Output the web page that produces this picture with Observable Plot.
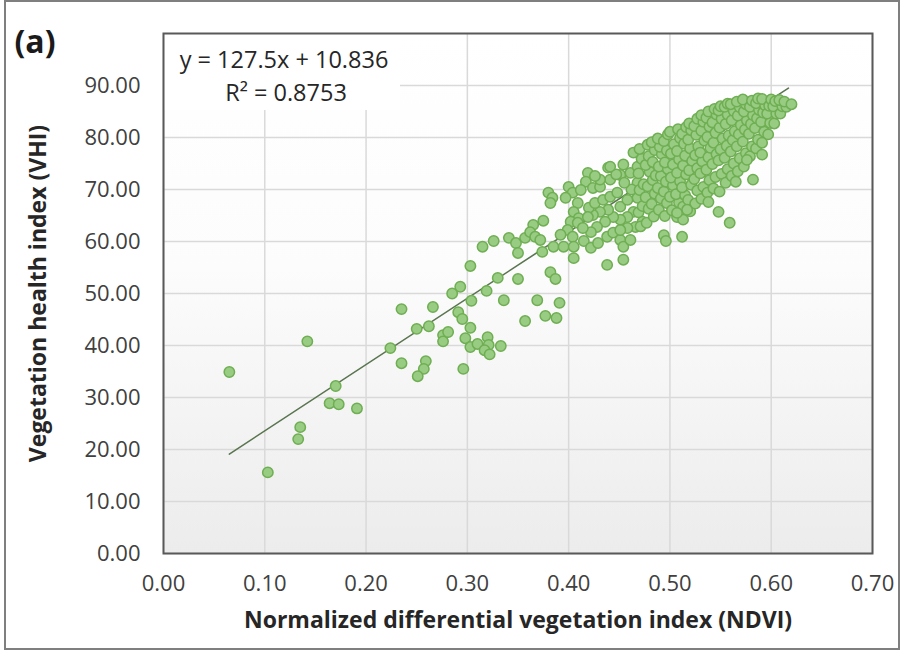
<!DOCTYPE html>
<html>
<head>
<meta charset="utf-8">
<script src="https://cdn.jsdelivr.net/npm/d3@7"></script>
<script src="https://cdn.jsdelivr.net/npm/@observablehq/plot@0.6"></script>
<style>
  body { margin: 0; background: #fff; }
  #wrap { position: relative; width: 900px; height: 650px; overflow: hidden; }
  #border { position: absolute; left: 4px; top: 0; width: 892px; height: 646px; border: 2px solid #7f7f7f; pointer-events: none; }
</style>
</head>
<body>
<div id="wrap"><div id="border"></div></div>
<script>
// Axis ticks and titles
const xTicks = [0, 0.1, 0.2, 0.3, 0.4, 0.5, 0.6, 0.7];
const yTicks = [0, 10, 20, 30, 40, 50, 60, 70, 80, 90];
const xTitle = "Normalized differential vegetation index (NDVI)";
const yTitle = "Vegetation health index (VHI)";
const panelLabel = "(a)";

// Linear fit reported on the chart
const slope = 127.5;
const intercept = 10.836;
const rSquared = "0.8753";
const fitRange = [0.065, 0.617];

// Observations [NDVI, VHI]: sparse low-NDVI tail
const lowTail = [
  [0.065, 34.9], [0.103, 15.6], [0.142, 40.8], [0.135, 24.3], [0.133, 22.0],
  [0.170, 32.2], [0.164, 28.9], [0.173, 28.7], [0.191, 27.9], [0.224, 39.5],
  [0.235, 47.0], [0.235, 36.6], [0.259, 37.0], [0.257, 35.5], [0.251, 34.1],
  [0.250, 43.2], [0.262, 43.7], [0.266, 47.4], [0.276, 42.0], [0.276, 40.8],
  [0.281, 42.6], [0.285, 50.0], [0.293, 51.3], [0.296, 35.5], [0.291, 46.4],
  [0.295, 45.1], [0.303, 43.4], [0.298, 41.4], [0.303, 39.7], [0.310, 40.3],
  [0.320, 41.6], [0.321, 40.1], [0.317, 39.1], [0.322, 38.3], [0.333, 39.9],
  [0.303, 55.3], [0.304, 48.6], [0.319, 50.5], [0.336, 48.7], [0.330, 53.0],
  [0.315, 59.0], [0.326, 60.1], [0.341, 60.7], [0.348, 59.7], [0.357, 60.7],
  [0.350, 57.8], [0.350, 52.8], [0.357, 44.7], [0.377, 45.7], [0.388, 45.3],
  [0.369, 48.7], [0.391, 48.2], [0.382, 54.1], [0.387, 52.8], [0.374, 58.0],
  [0.385, 59.0], [0.365, 63.2], [0.375, 64.0], [0.362, 61.8], [0.367, 60.9],
  [0.372, 60.3], [0.380, 69.4], [0.384, 68.4], [0.382, 67.4]
];

// Observations [NDVI, VHI]: transition zone 0.39–0.47
const midSpread = [
  [0.400, 70.5], [0.404, 69.4], [0.397, 68.4], [0.409, 67.4], [0.405, 65.7],
  [0.410, 64.5], [0.402, 63.8], [0.409, 63.6], [0.399, 62.2], [0.392, 61.3],
  [0.404, 60.9], [0.395, 59.0], [0.405, 59.0], [0.405, 56.8], [0.415, 60.1],
  [0.422, 58.8], [0.429, 59.7], [0.438, 60.9], [0.444, 61.7], [0.451, 60.3],
  [0.454, 59.0], [0.461, 60.3], [0.473, 63.8], [0.466, 62.8], [0.458, 62.6],
  [0.451, 62.2], [0.438, 55.5], [0.454, 56.5], [0.494, 61.2], [0.496, 60.1],
  [0.512, 60.9], [0.419, 73.2], [0.417, 71.5], [0.412, 69.9], [0.424, 70.3],
  [0.431, 70.5], [0.439, 74.2], [0.441, 71.9], [0.451, 72.8], [0.454, 74.8],
  [0.464, 77.1], [0.461, 73.2], [0.468, 74.4], [0.468, 71.3], [0.468, 68.4],
  [0.464, 65.7], [0.458, 64.7], [0.451, 64.2], [0.444, 64.7], [0.439, 66.1],
  [0.431, 65.7], [0.424, 65.1], [0.436, 63.8], [0.428, 62.8], [0.422, 61.8],
  [0.414, 62.6], [0.420, 66.5], [0.419, 64.7], [0.426, 67.4], [0.434, 68.0],
  [0.441, 68.6], [0.448, 69.4], [0.451, 66.7], [0.458, 68.0], [0.462, 70.0],
  [0.455, 71.3], [0.447, 72.9], [0.441, 74.4], [0.431, 71.9], [0.426, 72.6]
];

// Observations [NDVI, VHI]: dense high-NDVI core
const denseCore = [
  [0.471, 62.9], [0.469, 65.6], [0.473, 66.8], [0.470, 69.9], [0.474, 71.0], [0.469, 73.1], [0.472, 75.9], [0.470, 77.8],
  [0.477, 63.6], [0.479, 66.3], [0.476, 68.5], [0.478, 70.6], [0.480, 73.4], [0.476, 74.7], [0.479, 76.4], [0.478, 78.6],
  [0.484, 64.8], [0.482, 67.2], [0.485, 69.2], [0.483, 71.8], [0.486, 72.7], [0.483, 75.3], [0.485, 77.6], [0.482, 79.1],
  [0.489, 66.1], [0.491, 68.3], [0.488, 70.3], [0.491, 72.6], [0.489, 74.4], [0.492, 76.8], [0.490, 78.2], [0.488, 79.8],
  [0.495, 64.9], [0.497, 67.4], [0.494, 69.6], [0.496, 71.5], [0.498, 73.9], [0.495, 75.2], [0.497, 77.5], [0.494, 79.3], [0.498, 80.6],
  [0.502, 66.0], [0.500, 68.6], [0.503, 70.8], [0.501, 72.3], [0.503, 74.8], [0.501, 76.9], [0.504, 78.7], [0.500, 81.1],
  [0.507, 64.7], [0.509, 67.5], [0.506, 69.1], [0.510, 71.6], [0.507, 73.2], [0.509, 75.8], [0.507, 77.4], [0.510, 79.9], [0.508, 81.6],
  [0.513, 66.7], [0.515, 68.9], [0.512, 70.4], [0.516, 72.9], [0.513, 74.6], [0.515, 76.5], [0.514, 78.8], [0.512, 80.7], [0.516, 82.0],
  [0.520, 65.8], [0.518, 68.0], [0.521, 70.9], [0.519, 73.7], [0.522, 75.5], [0.520, 77.9], [0.518, 79.6], [0.521, 81.4], [0.519, 82.7],
  [0.525, 67.3], [0.527, 69.8], [0.524, 72.0], [0.527, 74.1], [0.525, 76.6], [0.528, 78.3], [0.526, 80.5], [0.524, 82.2], [0.527, 83.6],
  [0.531, 68.2], [0.533, 70.5], [0.530, 73.1], [0.532, 75.4], [0.530, 77.1], [0.534, 79.4], [0.531, 81.3], [0.533, 83.0], [0.531, 84.3],
  [0.537, 69.4], [0.539, 71.8], [0.536, 73.8], [0.538, 76.2], [0.540, 78.0], [0.537, 80.1], [0.539, 82.1], [0.536, 83.8], [0.538, 85.0],
  [0.543, 70.2], [0.545, 72.4], [0.542, 74.9], [0.546, 76.8], [0.543, 79.0], [0.545, 80.9], [0.542, 82.9], [0.546, 84.4], [0.544, 85.5],
  [0.549, 69.6], [0.551, 73.0], [0.548, 75.6], [0.550, 77.7], [0.552, 79.8], [0.549, 81.9], [0.551, 83.6], [0.548, 85.2], [0.550, 86.0],
  [0.555, 71.3], [0.557, 73.9], [0.554, 76.1], [0.556, 78.4], [0.558, 80.4], [0.555, 82.6], [0.557, 84.4], [0.554, 85.9], [0.557, 86.5],
  [0.561, 72.6], [0.563, 75.0], [0.560, 77.3], [0.562, 79.5], [0.564, 81.2], [0.561, 83.3], [0.563, 85.1], [0.560, 86.4],
  [0.567, 73.5], [0.569, 76.0], [0.566, 78.3], [0.568, 80.6], [0.570, 82.4], [0.567, 84.2], [0.569, 85.8], [0.566, 86.9],
  [0.573, 74.4], [0.575, 77.0], [0.572, 79.2], [0.574, 81.5], [0.576, 83.3], [0.573, 85.0], [0.575, 86.4], [0.572, 87.3],
  [0.579, 76.4], [0.581, 78.3], [0.578, 80.7], [0.580, 82.6], [0.582, 84.3], [0.579, 85.9], [0.581, 87.1],
  [0.585, 77.9], [0.587, 79.6], [0.584, 81.8], [0.586, 83.7], [0.588, 85.3], [0.585, 86.6], [0.587, 87.5],
  [0.591, 79.0], [0.593, 81.1], [0.590, 83.0], [0.592, 84.8], [0.594, 86.2], [0.591, 87.4],
  [0.597, 80.6], [0.599, 82.8], [0.596, 84.6], [0.598, 86.1], [0.600, 87.3],
  [0.603, 82.7], [0.605, 84.6], [0.602, 86.0], [0.604, 87.0],
  [0.609, 84.6], [0.611, 86.0], [0.608, 87.2],
  [0.615, 85.9], [0.613, 86.9],
  [0.620, 86.4]
];

// Observations [NDVI, VHI]: scattered points below the core
const coreOutliers = [
  [0.538, 67.6], [0.548, 65.7], [0.559, 63.6], [0.513, 64.2], [0.565, 71.5],
  [0.582, 71.9], [0.591, 76.7], [0.576, 75.7], [0.507, 65.5], [0.517, 66.1]
];

const points = [...lowTail, ...midSpread, ...denseCore, ...coreOutliers];
const fitLine = fitRange.map(x => ({x, y: slope * x + intercept}));

// Soft vertical shading of the plotting area
function gradientDefs() {
  const defs = d3.create("svg:defs");
  const lg = defs.append("linearGradient")
    .attr("id", "plotBg").attr("x1", 0).attr("y1", 0).attr("x2", 0).attr("y2", 1);
  lg.append("stop").attr("offset", "0%").attr("stop-color", "#ffffff");
  lg.append("stop").attr("offset", "45%").attr("stop-color", "#fcfcfc");
  lg.append("stop").attr("offset", "100%").attr("stop-color", "#ececec");
  return defs.node();
}

// White box with the regression equation in the top-left corner
function equationBox(index, scales, values, dims) {
  const g = d3.create("svg:g");
  const x0 = dims.marginLeft, y0 = dims.marginTop;
  g.append("rect")
    .attr("x", x0 + 1).attr("y", y0 + 1)
    .attr("width", 236).attr("height", 76)
    .attr("fill", "#ffffff");
  const t = g.append("text")
    .attr("text-anchor", "middle")
    .attr("font-size", 23.5)
    .attr("fill", "#262626");
  t.append("tspan").attr("x", x0 + 121).attr("y", y0 + 35)
    .text(`y = ${slope}x + ${intercept}`);
  t.append("tspan").attr("x", x0 + 123).attr("y", y0 + 68)
    .text(`R² = ${rSquared}`);
  return g.node();
}

const fmt = d3.format(".2f");

const chart = Plot.plot({
  width: 900,
  height: 650,
  marginLeft: 163,
  marginRight: 28,
  marginTop: 33,
  marginBottom: 97,
  style: {fontFamily: "'Open Sans', sans-serif", background: "transparent", overflow: "visible"},
  x: {domain: [0, 0.7]},
  y: {domain: [0, 100]},
  marks: [
    gradientDefs,
    Plot.frame({fill: "url(#plotBg)", stroke: null}),
    Plot.gridX(xTicks, {stroke: "#d9d9d9", strokeOpacity: 1, strokeWidth: 1.5}),
    Plot.gridY(yTicks, {stroke: "#d9d9d9", strokeOpacity: 1, strokeWidth: 1.5}),
    equationBox,
    Plot.line(fitLine, {x: "x", y: "y", stroke: "#5a7550", strokeWidth: 1.6}),
    Plot.dot(points, {
      x: d => d[0], y: d => d[1], r: 5.2,
      fill: "#97cc82", stroke: "#6fae52", strokeWidth: 1.5
    }),
    Plot.frame({stroke: "#595959", strokeWidth: 2}),
    Plot.axisX(xTicks, {
      tickSize: 0, tickPadding: 22, fontSize: 22, fill: "#404040",
      tickFormat: fmt, label: null
    }),
    Plot.axisY(yTicks, {
      tickSize: 0, tickPadding: 23, fontSize: 22, fill: "#404040",
      tickFormat: fmt, label: null
    }),
    Plot.text([xTitle], {
      text: d => d, frameAnchor: "bottom", dy: 74,
      fontSize: 23, fontWeight: "bold", fill: "#262626"
    }),
    Plot.text([yTitle], {
      text: d => d, frameAnchor: "left", dx: -125, rotate: -90,
      textAnchor: "middle", lineAnchor: "middle",
      fontSize: 23, fontWeight: "bold", fill: "#262626"
    }),
    Plot.text([panelLabel], {
      text: d => d, frameAnchor: "top-left", dx: -149, dy: -3,
      textAnchor: "start", fontSize: 32, fontWeight: "bold", fill: "#1a1a1a"
    })
  ]
});

document.getElementById("wrap").prepend(chart);
</script>
</body>
</html>
